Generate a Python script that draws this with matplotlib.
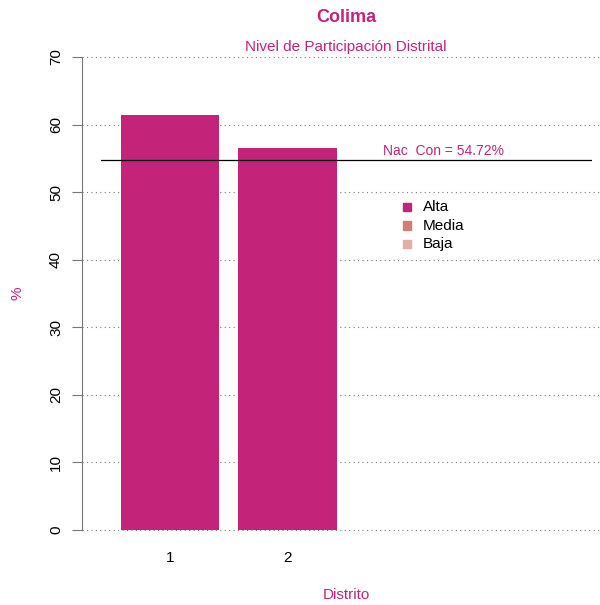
import matplotlib
matplotlib.use('Agg')
import matplotlib.pyplot as plt
from matplotlib.patches import Rectangle

# data
distritos = ['1', '2']
participacion = [61.4, 56.6]
nacional = 54.72
niveles = ['Alta', 'Media', 'Baja']
colores_nivel = ['#C4237A', '#D27C7C', '#DEB0A6']
yticks = [0, 10, 20, 30, 40, 50, 60, 70]

pink = '#C4237A'
plt.rcParams['font.family'] = ['Liberation Sans', 'DejaVu Sans']

W, H = 600, 605
PT = 72 / 100  # points per pixel
fig = plt.figure(figsize=(W / 100, H / 100), dpi=100)
x0, x1, ytop, ybot = 101, 592, 57, 530
ax = fig.add_axes([x0 / W, 1 - ybot / H, (x1 - x0) / W, (ybot - ytop) / H])
ax.set_xlim(0, 5)
ax.set_ylim(0, 70)

# grid lines, drawn across from the axis line to the right edge
gl_left = (82 - x0) / (x1 - x0)
gl_right = (600 - x0) / (x1 - x0)
for t in yticks:
    ax.plot([gl_left, gl_right], [t / 70, t / 70], transform=ax.transAxes,
            ls=(0, (1, 3)), color='#777777', lw=0.8, clip_on=False, zorder=0)

# bars (R barplot: width 1, space 0.2)
lefts = [0.2 + i * 1.2 for i in range(len(participacion))]
centers = [l + 0.5 for l in lefts]
ax.bar(centers, participacion, width=1.0, color=colores_nivel[0], zorder=2)

ax.axhline(nacional, color='black', lw=0.9, zorder=3)
ax.text(3.49, nacional + 0.3, 'Nac  Con = %.2f%%' % nacional, color=pink,
        fontsize=10, ha='center', va='bottom')

# legend
for i, (nv, c) in enumerate(zip(niveles, colores_nivel)):
    yy = 207 + i * 18.5
    fig.patches.append(Rectangle(((403) / W, 1 - (yy + 4) / H), 8 / W, 8 / H,
                                 transform=fig.transFigure, color=c))
    fig.text(423 / W, 1 - yy / H, nv, fontsize=11, va='center', ha='left')

for s in ['top', 'right', 'bottom']:
    ax.spines[s].set_visible(False)
ax.spines['left'].set_position(('outward', (x0 - 82) * PT))
ax.spines['left'].set_color('#777777')
ax.set_yticks(yticks)
ax.set_yticklabels([str(t) for t in yticks], rotation=90, va='center', fontsize=11)
ax.tick_params(axis='y', length=10 * PT, color='#777777', pad=9 * PT)
ax.set_xticks(centers)
ax.set_xticklabels(distritos, fontsize=11)
ax.tick_params(axis='x', length=0, pad=21 * PT)

fig.text(346 / W, 1 - 18 / H, 'Colima', color=pink, fontsize=13, fontweight='bold',
         ha='center', va='center')
fig.text(346 / W, 1 - 47 / H, 'Nivel de Participación Distrital', color=pink,
         fontsize=11, ha='center', va='center')
fig.text(346 / W, 1 - 595 / H, 'Distrito', color=pink, fontsize=11,
         ha='center', va='center')
fig.text(17 / W, 1 - 293 / H, '%', color=pink, fontsize=11, rotation=90,
         ha='center', va='center')

fig.savefig('out.png', dpi=100)
